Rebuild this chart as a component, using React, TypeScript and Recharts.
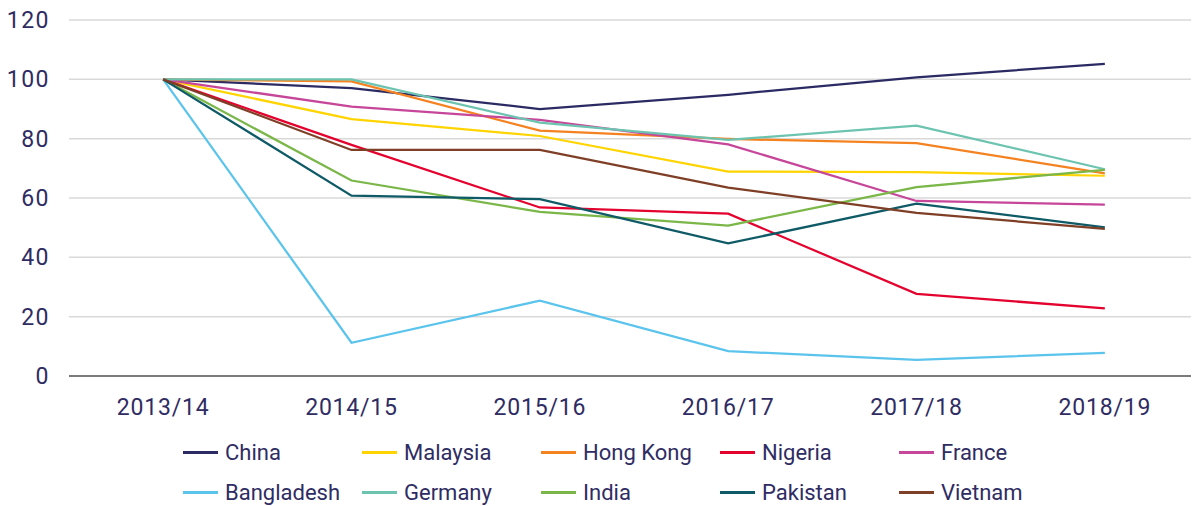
import { LineChart, Line, XAxis, YAxis, CartesianGrid, Legend } from "recharts";

const years = ["2013/14", "2014/15", "2015/16", "2016/17", "2017/18", "2018/19"];

const china = [100, 97.0, 90.0, 94.8, 100.7, 105.2];
const malaysia = [100, 86.6, 80.9, 68.9, 68.7, 67.5];
const hongKong = [100, 99.3, 82.7, 79.9, 78.5, 68.3];
const nigeria = [100, 77.9, 56.8, 54.7, 27.7, 22.8];
const france = [100, 90.8, 86.3, 78.1, 59.0, 57.8];
const bangladesh = [100, 11.2, 25.4, 8.4, 5.4, 7.8];
const germany = [100, 100.0, 85.4, 79.6, 84.4, 69.7];
const india = [100, 65.9, 55.3, 50.7, 63.7, 69.5];
const pakistan = [100, 60.8, 59.6, 44.7, 58.1, 50.1];
const vietnam = [100, 76.2, 76.2, 63.5, 55.0, 49.6];

const yTicks = [0, 20, 40, 60, 80, 100, 120];

const series = [
  { key: "China", values: china, color: "#2b2a63" },
  { key: "Malaysia", values: malaysia, color: "#ffd400" },
  { key: "Hong Kong", values: hongKong, color: "#f58220" },
  { key: "Nigeria", values: nigeria, color: "#e4032e" },
  { key: "France", values: france, color: "#c6469a" },
  { key: "Bangladesh", values: bangladesh, color: "#5bc4ec" },
  { key: "Germany", values: germany, color: "#6cc4b0" },
  { key: "India", values: india, color: "#7ab648" },
  { key: "Pakistan", values: pakistan, color: "#0e5a66" },
  { key: "Vietnam", values: vietnam, color: "#7f3f26" },
];

const data = years.map((year, i) => {
  const row: Record<string, string | number> = { year };
  series.forEach((s) => (row[s.key] = s.values[i]));
  return row;
});

const textColor = "#2f2c63";
const font = "Roboto, sans-serif";

function LegendGrid() {
  return (
    <div
      style={{
        display: "grid",
        gridTemplateColumns: "repeat(5, 179px)",
        gridAutoRows: "40px",
        paddingLeft: 183,
        paddingTop: 6,
      }}
    >
      {series.map((s) => (
        <div key={s.key} style={{ display: "flex", alignItems: "center" }}>
          <span
            style={{
              display: "inline-block",
              width: 35,
              height: 3,
              background: s.color,
              marginRight: 7,
            }}
          />
          <span style={{ fontFamily: font, fontSize: 22, color: textColor }}>{s.key}</span>
        </div>
      ))}
    </div>
  );
}

export default function App() {
  return (
    <div style={{ margin: "-8px 0 0 -8px", width: 1199, height: 506 }}>
      <LineChart width={1199} height={506} data={data} margin={{ top: 20, right: 0, left: 0, bottom: 0 }}>
        <CartesianGrid vertical={false} stroke="#d9d9d9" strokeWidth={1.5} />
        <XAxis
          dataKey="year"
          scale="band"
          height={50}
          axisLine={{ stroke: "#595959", strokeWidth: 1.5 }}
          tickLine={false}
          tickMargin={17}
          tick={{ fill: textColor, fontSize: 23, fontFamily: font, letterSpacing: 0.8 }}
        />
        <YAxis
          domain={[0, 120]}
          ticks={yTicks}
          width={69}
          axisLine={false}
          tickLine={false}
          tickMargin={13}
          tick={{ fill: textColor, fontSize: 23, fontFamily: font, letterSpacing: 1.5 }}
        />
        <Legend verticalAlign="bottom" height={80} content={() => <LegendGrid />} />
        {series.map((s) => (
          <Line
            key={s.key}
            dataKey={s.key}
            stroke={s.color}
            strokeWidth={2.25}
            dot={false}
            type="linear"
            isAnimationActive={false}
          />
        ))}
      </LineChart>
    </div>
  );
}
